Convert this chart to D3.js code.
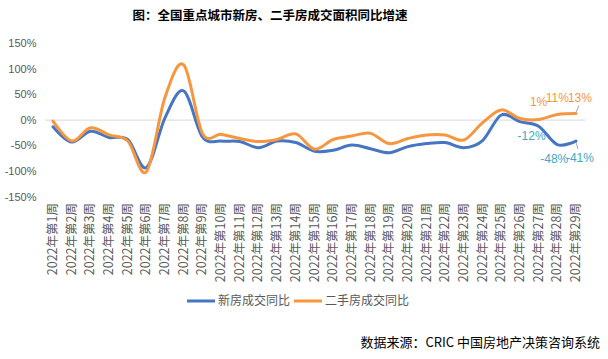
<!DOCTYPE html>
<html><head><meta charset="utf-8">
<script src="https://cdn.jsdelivr.net/npm/d3@7"></script>
<style>body{margin:0;background:#fff}svg{display:block}text{font-family:"Liberation Sans","Noto Sans CJK SC",sans-serif}</style>
</head><body><div id="c"></div>
<script>
const weeks = d3.range(1,30).map(i => "2022年第" + i + "周");
const newHouse = [-13,-43,-22,-34,-38,-93,5,57,-33,-41,-42,-54,-41,-44,-61,-59,-49,-56,-64,-52,-46,-44,-54,-40,10,-3,-12,-48,-41];
const secondHand = [-2,-41,-15,-29,-41,-101,45,108,-26,-28,-36,-42,-38,-27,-57,-38,-31,-26,-46,-36,-29,-29,-39,-5,20,3,1,11,13];
const yTicks = [-150,-100,-50,0,50,100,150];
const seriesNames = ["新房成交同比","二手房成交同比"];
const colors = ["#4676C2","#F6963F"];
const labelColors = ["#42A8C6","#F6963F"];

const W=608,H=359;
const svg=d3.select("#c").append("svg").attr("width",W).attr("height",H);
const x=d3.scaleBand().domain(weeks).range([43.7,585.3]);
const y=d3.scaleLinear().domain([-150,150]).range([196.7,43.5]);
const cx=d=>x(d)+x.bandwidth()/2;

svg.append("text").attr("x",270).attr("y",20).attr("text-anchor","middle")
  .attr("font-size",12.5).attr("font-weight","bold").attr("fill","#000")
  .style("font-family","'Noto Sans CJK SC',sans-serif")
  .text("图：全国重点城市新房、二手房成交面积同比增速");

svg.append("g").selectAll("text").data(yTicks).join("text")
  .attr("x",36.5).attr("y",d=>y(d)).attr("dy","0.35em").attr("text-anchor","end")
  .attr("font-size",11).attr("fill","#595959").text(d=>d+"%");
svg.append("line").attr("x1",45).attr("x2",585).attr("y1",y(0)).attr("y2",y(0))
  .attr("stroke","#D9D9D9").attr("stroke-width",1);

svg.append("g").selectAll("text").data(weeks).join("text")
  .attr("transform",d=>`translate(${cx(d)+4},203) rotate(-90)`)
  .attr("text-anchor","end").attr("font-size",12.5).attr("fill","#595959")
  .style("font-family","'Noto Sans CJK SC',sans-serif").text(d=>d);

const line=d3.line().x((d,i)=>cx(weeks[i])).y(d=>y(d)).curve(d3.curveCardinal.tension(0));
[newHouse,secondHand].forEach((s,k)=>{
  svg.append("path").attr("d",line(s)).attr("fill","none").attr("stroke",colors[k])
    .attr("stroke-width",3).attr("stroke-linejoin","round").attr("stroke-linecap","round");
});

const n=weeks.length;
const oOff=[[0,-18],[0,-17],[4,-16]];
const bOff=[[-7,10],[-3,14],[4,17]];
[[secondHand,oOff,1],[newHouse,bOff,0]].forEach(([s,off,k])=>{
  for(let j=0;j<3;j++){
    const i=n-3+j;
    svg.append("text").attr("x",cx(weeks[i])+off[j][0]).attr("y",y(s[i])+off[j][1])
      .attr("dy","0.35em").attr("text-anchor","middle").attr("font-size",12)
      .attr("fill",labelColors[k]).text(s[i]+"%");
  }
});
svg.append("line").attr("x1",cx(weeks[n-1])).attr("y1",y(secondHand[n-1])-1)
  .attr("x2",cx(weeks[n-1])+3).attr("y2",y(secondHand[n-1])-8).attr("stroke","#A6A6A6");
svg.append("line").attr("x1",cx(weeks[n-1])).attr("y1",y(newHouse[n-1])+1)
  .attr("x2",cx(weeks[n-1])+2).attr("y2",y(newHouse[n-1])+8).attr("stroke","#A6A6A6");

const lg=svg.append("g");
const lx=[187,294];
seriesNames.forEach((nm,k)=>{
  lg.append("line").attr("x1",lx[k]).attr("x2",lx[k]+28).attr("y1",301).attr("y2",301)
    .attr("stroke",colors[k]).attr("stroke-width",3);
  lg.append("text").attr("x",lx[k]+31).attr("y",301).attr("dy","0.35em")
    .attr("font-size",12).attr("fill","#595959")
    .style("font-family","'Noto Sans CJK SC',sans-serif").text(nm);
});

svg.append("text").attr("x",600).attr("y",342).attr("dy","0.35em").attr("text-anchor","end")
  .attr("font-size",13).attr("fill","#000")
  .style("font-family","'Noto Sans CJK SC',sans-serif")
  .text("数据来源：CRIC 中国房地产决策咨询系统");
</script></body></html>
